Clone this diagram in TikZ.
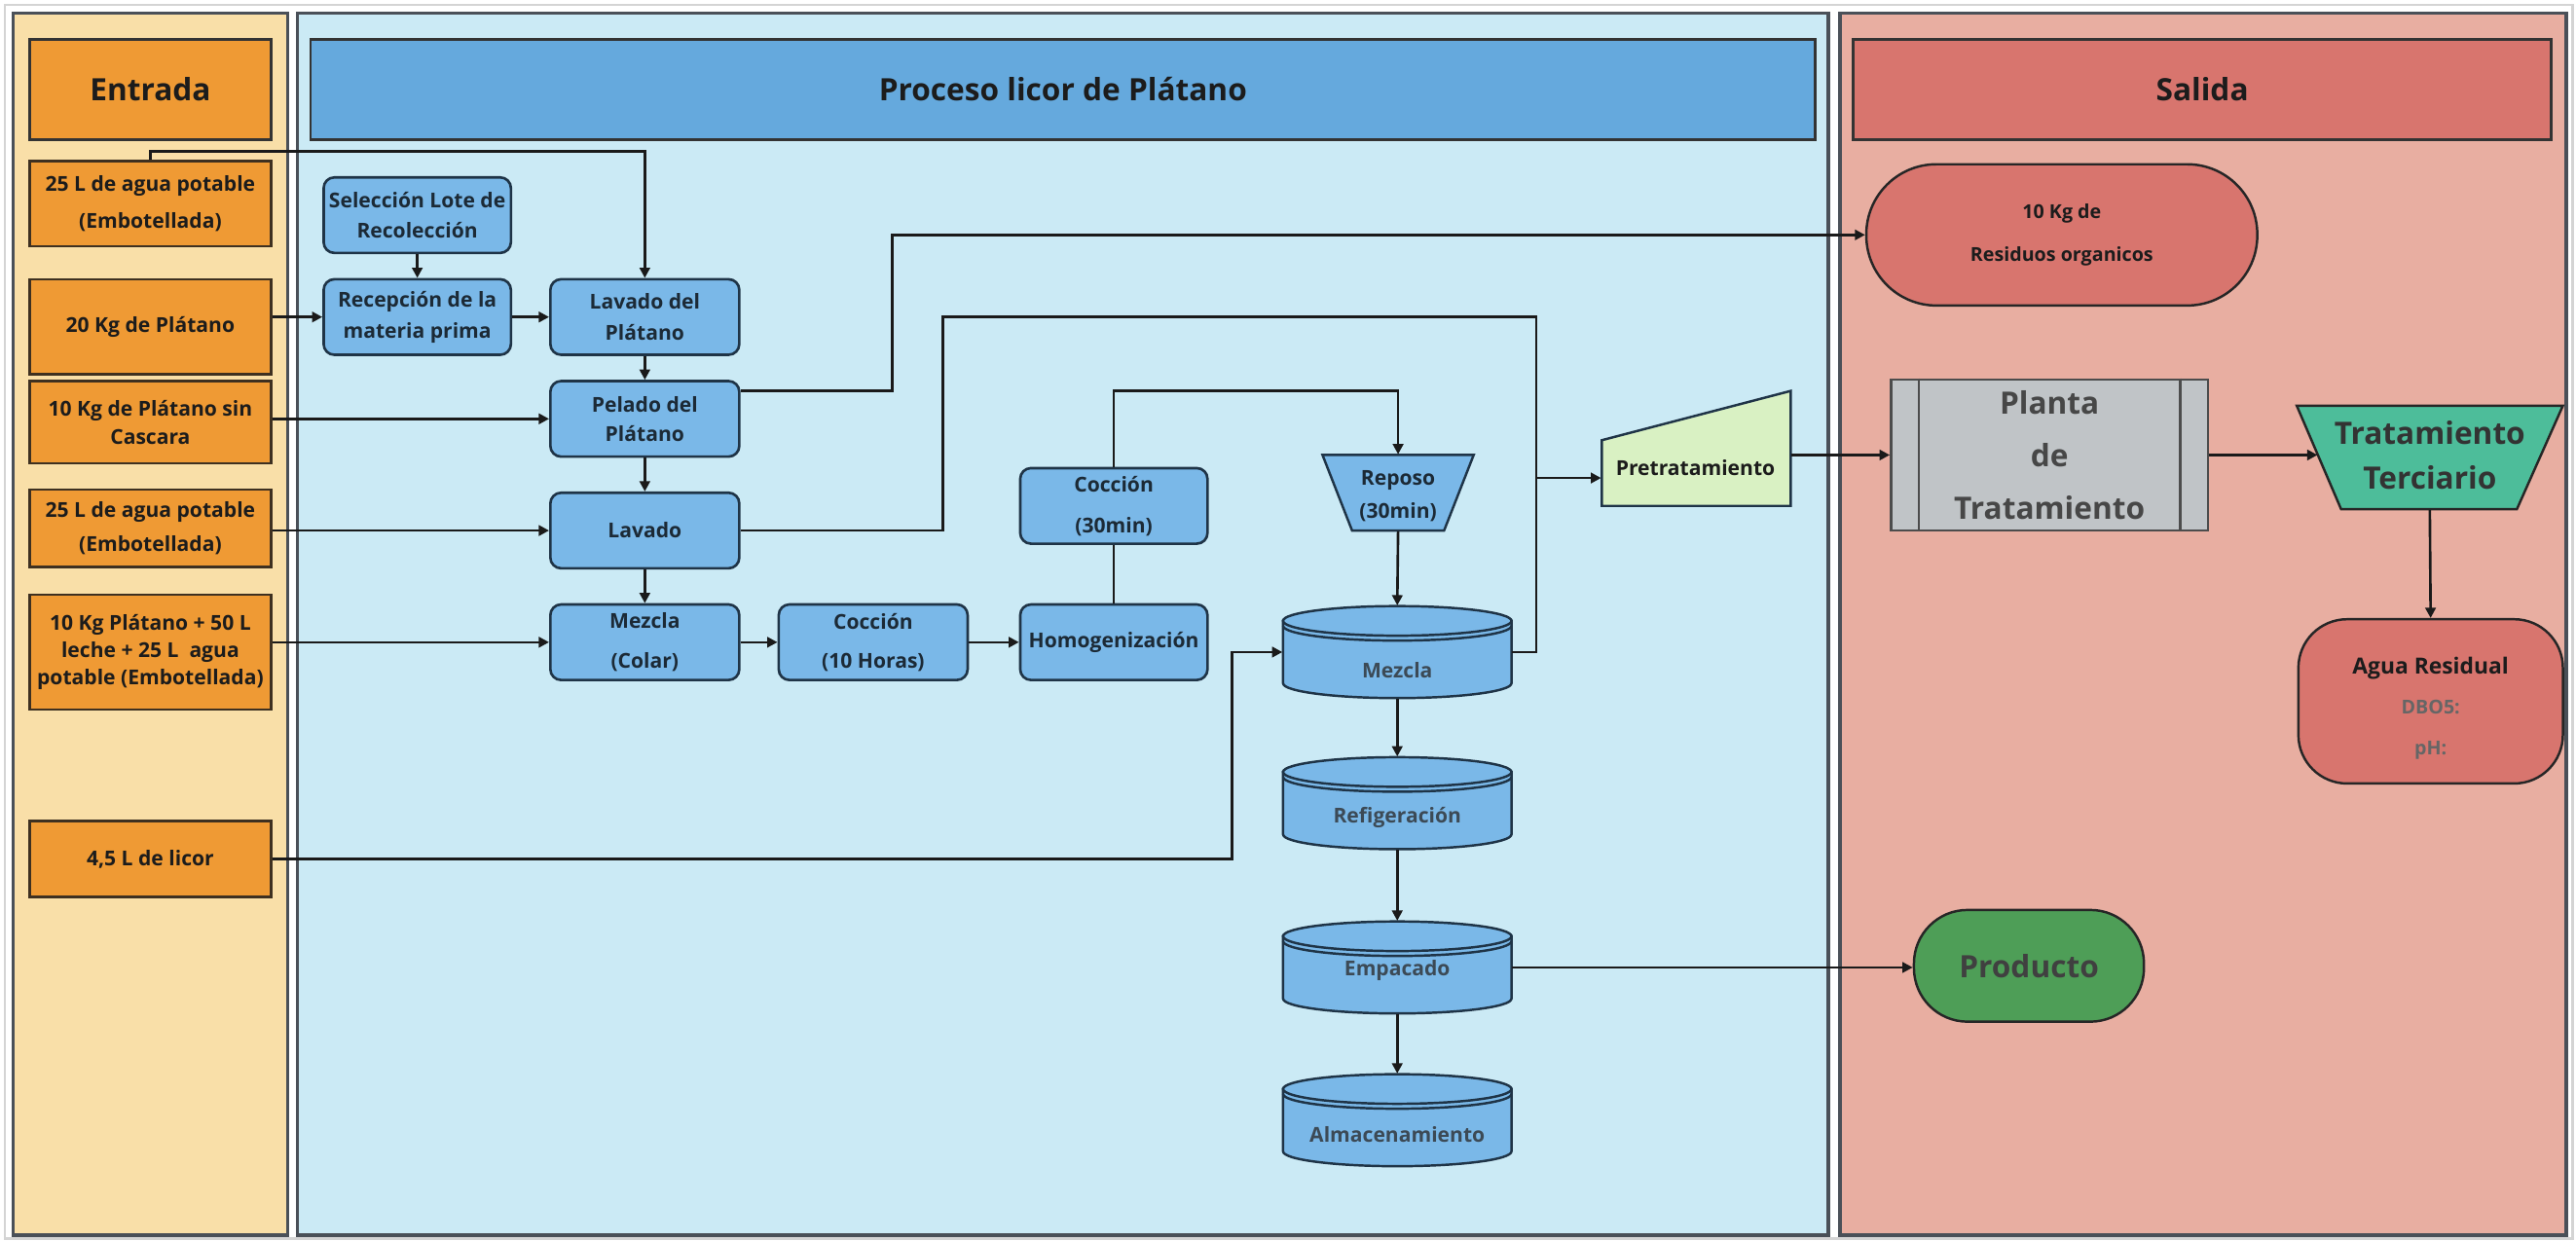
\documentclass[tikz,border=0pt]{standalone}
\usepackage{fontspec}
\setmainfont{Open Sans}
\usetikzlibrary{arrows.meta}

\definecolor{laneE}{HTML}{F9DFA8}
\definecolor{laneP}{HTML}{CBEAF5}
\definecolor{laneS}{HTML}{E8AEA1}
\definecolor{inputfill}{HTML}{EF9A34}
\definecolor{hdrP}{HTML}{65A9DD}
\definecolor{procfill}{HTML}{7AB8E8}
\definecolor{salfill}{HTML}{D8756E}
\definecolor{plantafill}{HTML}{C0C4C7}
\definecolor{tercfill}{HTML}{4DBD9A}
\definecolor{prodfill}{HTML}{4E9E57}
\definecolor{prefill}{HTML}{D9F1C3}
\definecolor{lanedraw}{HTML}{4A5058}
\definecolor{procdraw}{HTML}{1F3447}
\definecolor{indraw}{HTML}{3E3020}
\definecolor{flowc}{HTML}{1A1A1A}
\definecolor{textdark}{HTML}{1C1C1C}
\definecolor{textproc}{HTML}{1C2A36}
\definecolor{textgray}{HTML}{3C4A56}
\definecolor{framegray}{HTML}{D4D4D4}

\tikzset{
  % a box given by its corners x1/y1/x2/y2
  spot/.style args={#1/#2/#3/#4}{at={({(#1+#3)/2},{(#2+#4)/2})},
    minimum width={(#3-#1)*0.016875cm}, minimum height={(#4-#2)*0.016875cm}},
  lane/.style={draw=lanedraw, line width=1pt},
  bt/.style={font=\fontsize{6}{#1}\selectfont\bfseries},
  bt/.default=7.5,
  hdr/.style={draw=black!80, line width=0.8pt, inner sep=0pt,
    font=\fontsize{9}{11}\selectfont\bfseries, text=textdark},
  inbox/.style={draw=indraw, fill=inputfill, line width=0.75pt, inner sep=0pt,
    align=center, text=textdark},
  procbox/.style={draw=procdraw, fill=procfill, rounded corners=0.11cm,
    line width=0.75pt, inner sep=0pt, align=center, text=textproc},
  procshape/.style={draw=procdraw, fill=procfill, line width=0.7pt},
  anchorbox/.style={inner sep=0pt, align=center},
  flow/.style={draw=flowc, line width=0.75pt},
  arr/.style={flow, -{Triangle[length=3pt,width=3pt]}},
}

% cylinder step: name, x1, y1, x2, y2, text offset, text
\newcommand\drum[7]{%
  \pgfmathsetmacro\drumrx{(#4-#2)*0.0084375}%
  \draw[procshape] (#2,#3+9) -- (#2,#5-9)
    arc[start angle=180,end angle=360,x radius=\drumrx cm,y radius=0.152cm]
    -- (#4,#3+9) -- cycle;
  \draw[procshape] ({(#2+#4)/2},#3+9) ellipse[x radius=\drumrx cm,y radius=0.152cm];
  \draw[procdraw, line width=0.7pt] (#2,#3+12)
    arc[start angle=180,end angle=360,x radius=\drumrx cm,y radius=0.152cm];
  \node[anchorbox, spot=#2/#3/#4/#5] (#1) {};
  \node[bt, text=textgray] (#1txt) at ({(#2+#4)/2},{(#3+#5)/2+#6}) {#7};
}

\begin{document}
\begin{tikzpicture}[x=0.016875cm,y=-0.016875cm]
\useasboundingbox (0,0) rectangle (1568,755);
\fill[white] (0,0) rectangle (1568,755);
\draw[framegray, line width=0.8pt] (3,3) rectangle (1566,754);

% swim lanes
\draw[lane, fill=laneE] (8,8) rectangle (175,752);
\draw[lane, fill=laneP] (181,8) rectangle (1113,752);
\draw[lane, fill=laneS] (1120,8) rectangle (1562,752);

% lane headers
\node[hdr, fill=inputfill, spot=18/24/165/85] (hE) {Entrada};
\node[hdr, fill=hdrP, spot=189/24/1105/85] (hP) {Proceso licor de Plátano};
\node[hdr, fill=salfill, spot=1128/24/1553/85] (hS) {Salida};

% inputs
\node[inbox, bt=10.6, spot=18/98/165/150] (in1) {25 L de agua potable\\(Embotellada)};
\node[inbox, bt, spot=18/170/165/228] (in2) {20 Kg de Plátano};
\node[inbox, bt=8.2, spot=18/232/165/282] (in3) {10 Kg de Plátano sin\\Cascara};
\node[inbox, bt=10, spot=18/298/165/345] (in4) {25 L de agua potable\\(Embotellada)};
\node[inbox, bt=7.9, spot=18/362/165/432] (in5) {10 Kg Plátano + 50 L\\leche + 25 L \ agua\\potable (Embotellada)};
\node[inbox, bt, spot=18/500/165/546] (in6) {4,5 L de licor};

% process steps
\node[procbox, bt=8.6, spot=197/108/311/154] (sel) {Selección Lote de\\Recolección};
\node[procbox, bt=9.1, spot=197/170/311/216] (rec) {Recepción de la\\materia prima};
\node[procbox, bt=9.1, spot=335/170/450/216] (lav1) {Lavado del\\Plátano};
\node[procbox, bt=8.6, spot=335/232/450/278] (pel) {Pelado del\\Plátano};
\node[procbox, bt, spot=335/300/450/346] (lav2) {Lavado};
\node[procbox, bt=11.5, spot=335/368/450/414] (mezc) {Mezcla\\(Colar)};
\node[procbox, bt=11.5, spot=474/368/589/414] (coc10) {Cocción\\(10 Horas)};
\node[procbox, bt, spot=621/368/735/414] (homo) {Homogenización};
\node[procbox, bt=12, spot=621/285/735/331] (coc30) {Cocción\\(30min)};

\draw[procshape] (805,277) -- (897,277) -- (879,323) -- (823,323) -- cycle;
\node[anchorbox, spot=805/277/897/323] (rep) {};
\node[bt=9.6, align=center, text=textproc] (reptxt) at (851,302) {Reposo\\(30min)};

\drum{mez2}{781}{369}{920}{425}{11}{Mezcla}
\drum{ref}{781}{461}{920}{517}{9}{Refigeración}
\drum{emp}{781}{561}{920}{617}{2}{Empacado}
\drum{alm}{781}{654}{920}{710}{9}{Almacenamiento}

\draw[draw=procdraw, fill=prefill, line width=0.7pt] (975,268) -- (1090,238) -- (1090,308) -- (975,308) -- cycle;
\node[anchorbox, spot=975/238/1090/308] (pre) {};
\node[bt, text=textdark] (pretxt) at (1032,285) {Pretratamiento};

% outputs
\node[spot=1136/100/1374/186, draw=black!85, fill=salfill, line width=0.7pt,
  rounded corners=0.72cm, anchorbox, font=\fontsize{5.6}{12.5}\selectfont\bfseries, text=textdark]
  (res) {10 Kg de\\Residuos organicos};
\node[spot=1151/231/1344/323, draw=black!70, fill=plantafill, line width=0.7pt,
  anchorbox, font=\fontsize{9}{15.4}\selectfont\bfseries, text=black!72] (pla) {Planta\\de\\Tratamiento};
\draw[black!70, line width=0.7pt] ([xshift=0.3cm]pla.north west) -- ([xshift=0.3cm]pla.south west);
\draw[black!70, line width=0.7pt] ([xshift=-0.3cm]pla.north east) -- ([xshift=-0.3cm]pla.south east);

\draw[draw=black!85, fill=tercfill, line width=0.7pt] (1398,247) -- (1560,247) -- (1532,310) -- (1425,310) -- cycle;
\node[anchorbox, spot=1398/244/1560/310, font=\fontsize{9}{13}\selectfont\bfseries, text=black!80] (ter) {Tratamiento\\Terciario};

\node[spot=1399/377/1560/477, draw=black!85, fill=salfill, line width=0.7pt,
  rounded corners=0.5cm, anchorbox] (agua) {};
\node[align=center, font=\fontsize{5.6}{11.8}\selectfont\bfseries, text=black!60] (aguatxt) at (1479.5,431)
  {\textcolor{textdark}{\fontsize{6.5}{11.8}\selectfont Agua Residual}\\DBO5:\\pH:};

\node[spot=1165/554/1305/622, draw=black!85, fill=prodfill, line width=0.7pt,
  rounded corners=0.55cm, anchorbox, font=\fontsize{9}{11}\selectfont\bfseries, text=black!75] (prod) {Producto};

% helper coordinates for the routed lines
\coordinate (ytop) at (0,92);
\coordinate (yrep) at (0,238);
\coordinate (yret) at (0,193);
\coordinate (ypre) at (0,291);
\coordinate (xres) at (543,0);
\coordinate (xlav) at (574,0);
\coordinate (xvert) at (935,0);
\coordinate (xlic) at (750,0);

% connectors
\draw[arr] (in1.north) |- (lav1.north |- ytop) -- (lav1.north);
\draw[arr] (in2.east |- rec.west) -- (rec.west);
\draw[arr] (in3.east |- pel.west) -- (pel.west);
\draw[arr] (in4.east |- lav2.west) -- (lav2.west);
\draw[arr] (in5.east |- mezc.west) -- (mezc.west);
\draw[arr] (in6.east) -| (xlic |- mez2.west) -- (mez2.west);

\draw[arr] (sel.south) -- (rec.north);
\draw[arr] (rec.east) -- (lav1.west);
\draw[arr] (lav1.south) -- (pel.north);
\draw[arr] (pel.south) -- (lav2.north);
\draw[arr] (lav2.south) -- (mezc.north);
\draw[arr] (mezc.east) -- (coc10.west);
\draw[arr] (coc10.east) -- (homo.west);
\draw[flow] (homo.north) -- (coc30.south);
\draw[arr] (coc30.north) |- (rep.north |- yrep) -- (rep.north);
\draw[arr] (rep.south) -- (mez2.north);
\draw[arr] (mez2.south) -- (ref.north);
\draw[arr] (ref.south) -- (emp.north);
\draw[arr] (emp.south) -- (alm.north);

\draw[arr] (pel.east |- yrep) -| (xres |- res.west) -- (res.west);
\draw[flow] (lav2.east) -| (xlav |- yret) -| (xvert |- mez2.east) -- (mez2.east);
\draw[arr] (xvert |- ypre) -- (pre.west |- ypre);
\draw[arr] (pre.east |- pla.west) -- (pla.west);
\draw[arr] (pla.east) -- ([xshift=0.22cm]ter.west);
\draw[arr] (ter.south) -- (agua.north);
\draw[arr] (emp.east) -- (prod.west |- emp.east);
\end{tikzpicture}
\end{document}
